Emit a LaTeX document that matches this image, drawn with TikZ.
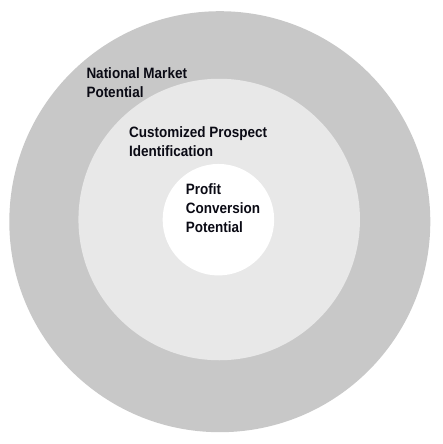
\documentclass[tikz,border=0pt]{standalone}
\usepackage{fontspec}
\setmainfont{Liberation Sans}[FakeStretch=0.9]
\definecolor{ringouter}{RGB}{200,200,200}
\definecolor{ringmid}{RGB}{232,232,232}
\definecolor{labeltext}{RGB}{10,10,20}
\begin{document}
\begin{tikzpicture}[x=1pt,y=-1pt,
  ring/.style={circle,draw=none,inner sep=0pt},
  lbl/.style={anchor=base west,inner sep=0pt,align=left,text=labeltext,
    font=\fontsize{15}{18.8}\selectfont\bfseries}]
\useasboundingbox (0,0) rectangle (442,444);
\node[ring,fill=ringouter,minimum size=421pt] (outer) at (219.8,221.7) {};
\node[ring,fill=ringmid,minimum size=281.5pt] (middle) at (219.2,219.5) {};
\node[ring,fill=white,minimum size=111.5pt] (inner) at (218.4,219.7) {};
\node[lbl] (national) at (86.3,97.4) {National Market\\Potential};
\node[lbl] (custom) at (129,156) {Customized Prospect\\Identification};
\node[lbl] (profit) at (185.7,232) {Profit\\Conversion\\Potential};
\end{tikzpicture}
\end{document}
